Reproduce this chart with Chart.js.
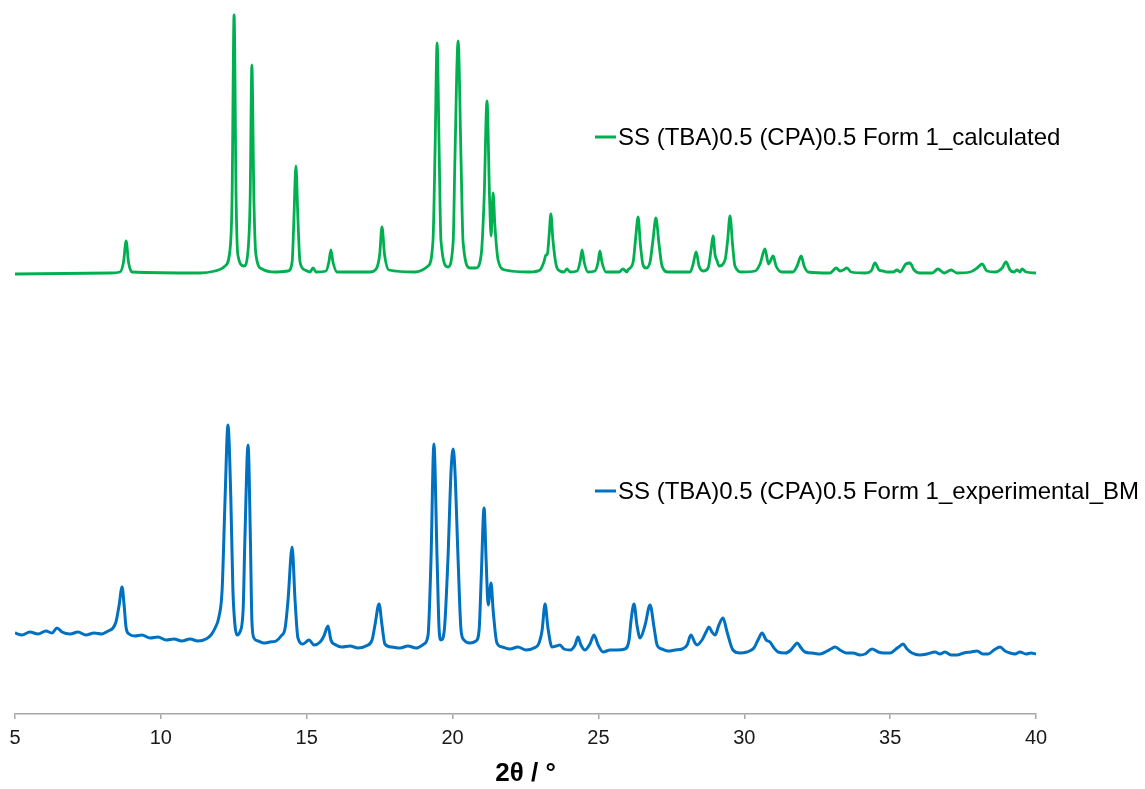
<!DOCTYPE html>
<html>
<head>
<meta charset="utf-8">
<title>PXRD</title>
<script src="https://cdn.jsdelivr.net/npm/chart.js@4.4.1/dist/chart.umd.min.js"></script>
<style>
  html, body { margin: 0; padding: 0; background: #fff; }
  canvas { display: block; }
</style>
</head>
<body>
<canvas id="xrd" width="1145" height="789"></canvas>
<script>
// series labels
const seriesNames = [
  'SS (TBA)0.5 (CPA)0.5 Form 1_calculated',
  'SS (TBA)0.5 (CPA)0.5 Form 1_experimental_BM'
];

// calculated pattern (2θ / °, intensity a.u., already offset upwards)
const calcTheta = [
  5.00, 8.26, 8.60, 8.72, 8.81, 8.89, 9.01,
  11.34, 11.86, 12.20, 12.37, 12.44, 12.51, 12.58, 12.64, 12.85,
  12.99, 13.06, 13.12, 13.19, 13.26, 13.47, 13.91,
  14.36, 14.50, 14.56, 14.63, 14.70, 14.77, 14.94,
  15.11, 15.22, 15.32,
  15.66, 15.76, 15.83, 15.90, 16.04,
  17.17, 17.38, 17.50, 17.58, 17.67, 17.82,
  18.71, 19.16, 19.33, 19.40, 19.47, 19.54, 19.60, 19.84,
  20.02, 20.08, 20.19, 20.29, 20.36, 20.60,
  20.80, 20.98, 21.08, 21.18, 21.27, 21.32, 21.39, 21.45, 21.56, 21.80,
  22.65, 23.00, 23.13, 23.20, 23.25, 23.31, 23.37, 23.44, 23.55, 23.68,
  23.82, 23.92, 24.03,
  24.27, 24.37, 24.44, 24.51, 24.64,
  24.88, 24.99, 25.05, 25.12, 25.26,
  25.71, 25.84, 25.98,
  26.01, 26.19, 26.27, 26.36, 26.44, 26.53, 26.63,
  26.77, 26.87, 26.97, 27.08, 27.18, 27.39,
  28.14, 28.24, 28.35, 28.45, 28.59,
  28.76, 28.86, 28.93, 29.00, 29.07, 29.13,
  29.34, 29.43, 29.51, 29.60, 29.68, 29.92,
  30.37, 30.54, 30.71, 30.83, 30.88, 30.99, 31.09, 31.29,
  31.67, 31.81, 31.95, 32.05, 32.19,
  32.94, 33.15, 33.28, 33.39, 33.52, 33.66,
  34.14, 34.35, 34.48, 34.62, 34.76, 34.89,
  35.10, 35.24, 35.34, 35.54, 35.68, 35.82, 36.02,
  36.44, 36.64, 36.85, 37.09, 37.29,
  37.74, 37.98, 38.15, 38.32, 38.60,
  38.84, 38.97, 39.11, 39.25, 39.35, 39.45, 39.52, 39.66, 40.00
];
const calcIntensity = [
  440, 441, 442, 452, 473, 452, 442,
  441, 443, 448, 464, 514, 699, 514, 459, 448,
  464, 514, 649, 514, 459, 445, 442,
  443, 452, 494, 548, 494, 452, 444,
  442, 446, 442,
  443, 452, 464, 452, 442,
  442, 445, 459, 487, 459, 444,
  442, 448, 474, 564, 671, 564, 474, 447,
  472, 554, 673, 554, 472, 446,
  446, 459, 514, 613, 514, 478, 521, 489, 454, 444,
  442, 444, 452, 459, 460, 479, 500, 474, 449, 443,
  442, 445, 442,
  443, 452, 464, 452, 442,
  443, 452, 463, 452, 442,
  442, 445, 442,
  444, 452, 474, 497, 469, 449, 446,
  452, 474, 496, 469, 448, 442,
  442, 449, 462, 448, 443,
  446, 464, 478, 459, 453, 448,
  454, 474, 498, 469, 448, 442,
  443, 450, 465, 450, 452, 458, 448, 442,
  442, 448, 458, 448, 442,
  441, 446, 443, 444, 446, 442,
  441, 443, 451, 444, 443, 442,
  442, 444, 442, 450, 451, 444, 441,
  441, 445, 441, 444, 441,
  442, 446, 450, 443, 442,
  446, 452, 444, 442, 444, 442, 445, 442, 441
];

// experimental pattern (ball milled)
const expTheta = [
  5.00, 5.24, 5.51, 5.79, 6.06, 6.27, 6.44, 6.61, 6.89, 7.16, 7.43, 7.71, 7.98,
  8.19, 8.36, 8.46, 8.57, 8.67, 8.74, 8.81, 8.91,
  9.11, 9.35, 9.63, 9.90, 10.18, 10.45, 10.72, 11.00, 11.27, 11.55, 11.72,
  11.86, 11.99, 12.10, 12.20, 12.30, 12.40, 12.47, 12.54, 12.61,
  12.71, 12.82, 12.88, 12.99, 13.07, 13.12, 13.19,
  13.33, 13.54, 13.74, 13.95, 14.12,
  14.26, 14.36, 14.50, 14.60, 14.70, 14.87, 15.08, 15.25, 15.46,
  15.59, 15.73, 15.83, 16.00, 16.21, 16.48, 16.76, 17.03, 17.24,
  17.34, 17.48, 17.58, 17.68, 17.92, 18.20, 18.47, 18.75, 19.02,
  19.16, 19.26, 19.36, 19.47, 19.54, 19.60, 19.71,
  19.84, 19.95, 20.02, 20.08, 20.19, 20.29, 20.39, 20.60, 20.80,
  20.91, 20.98, 21.08, 21.15, 21.22, 21.32, 21.39, 21.52,
  21.70, 21.97, 22.24, 22.52, 22.79, 22.95,
  23.07, 23.17, 23.27, 23.41, 23.55, 23.68, 23.82, 24.03,
  24.20, 24.30, 24.40, 24.54, 24.71, 24.85, 24.99, 25.16,
  25.40, 25.64, 25.91, 26.05, 26.12, 26.22, 26.32, 26.43,
  26.60, 26.77, 26.91, 27.01, 27.18, 27.39, 27.63, 27.87,
  28.04, 28.17, 28.31, 28.38, 28.55, 28.69, 28.79, 28.89, 29.00,
  29.13, 29.27, 29.41, 29.61, 29.85, 30.09, 30.33,
  30.47, 30.61, 30.75, 30.88, 31.02, 31.16, 31.40, 31.60,
  31.71, 31.81, 31.95, 32.08, 32.32, 32.60, 32.84,
  32.97, 33.11, 33.28, 33.49, 33.73, 33.97, 34.14,
  34.38, 34.59, 34.79, 35.00, 35.20, 35.34, 35.44, 35.58, 35.75,
  36.02, 36.26, 36.54, 36.71, 36.88, 37.09, 37.29, 37.53, 37.77,
  37.98, 38.18, 38.36, 38.56, 38.77, 38.94, 39.11, 39.28, 39.45, 39.66, 39.83, 40.00
];
const expIntensity = [
  81, 79, 82, 80, 83, 81, 86, 82, 80, 82, 79, 81, 80,
  83, 86, 92, 109, 127, 109, 86, 80,
  78, 79, 76, 77, 74, 75, 73, 75, 73, 75, 79,
  86, 97, 124, 214, 289, 214, 124, 89, 79,
  82, 104, 174, 269, 174, 94, 76,
  73, 71, 72, 73, 78,
  86, 114, 167, 114, 76, 70, 74, 69, 72,
  78, 88, 74, 69, 67, 68, 66, 68, 74,
  89, 110, 89, 70, 67, 66, 68, 66, 70,
  79, 154, 270, 154, 84, 74, 82,
  154, 244, 265, 244, 154, 84, 74, 71, 73,
  84, 134, 206, 154, 109, 131, 104, 71,
  67, 65, 67, 64, 66, 70,
  84, 110, 86, 67, 68, 69, 65, 64,
  69, 77, 69, 64, 70, 79, 69, 62,
  64, 64, 65, 74, 94, 110, 89, 76,
  89, 109, 86, 69, 65, 63, 64, 65,
  69, 79, 71, 69, 74, 82, 87, 82, 79,
  89, 96, 82, 64, 61, 62, 66,
  74, 81, 74, 72, 66, 62, 61, 64,
  68, 71, 66, 62, 61, 60, 63,
  65, 67, 64, 61, 61, 59, 60,
  65, 62, 61, 61, 65, 68, 70, 65, 61,
  59, 60, 62, 60, 62, 59, 59, 61, 62,
  63, 60, 60, 64, 67, 63, 61, 60, 62, 60, 61, 60
];

const xTicks = [5, 10, 15, 20, 25, 30, 35, 40];

const FONT = '"Liberation Sans", Arial, sans-serif';

function toPoints(xs, ys) {
  return xs.map((x, i) => ({ x: x, y: ys[i] }));
}

// labels sit next to each trace instead of in a legend box
const inlineLabels = {
  id: 'inlineLabels',
  afterDraw(chart) {
    const ctx = chart.ctx;
    const spots = [[595, 137], [595, 491]];
    chart.data.datasets.forEach((ds, i) => {
      const [x, y] = spots[i];
      ctx.save();
      ctx.strokeStyle = ds.borderColor;
      ctx.lineWidth = 3;
      ctx.beginPath();
      ctx.moveTo(x, y);
      ctx.lineTo(x + 21, y);
      ctx.stroke();
      ctx.fillStyle = '#000';
      ctx.font = '24px ' + FONT;
      ctx.textBaseline = 'middle';
      ctx.fillText(ds.label, x + 23, y + 1);
      ctx.restore();
    });
  }
};

new Chart(document.getElementById('xrd'), {
  type: 'line',
  data: {
    datasets: [
      {
        label: seriesNames[0],
        data: toPoints(calcTheta, calcIntensity),
        borderColor: '#00b050',
        borderWidth: 2.8
      },
      {
        label: seriesNames[1],
        data: toPoints(expTheta, expIntensity),
        borderColor: '#0070c0',
        borderWidth: 3
      }
    ]
  },
  options: {
    responsive: false,
    animation: false,
    devicePixelRatio: 1,
    layout: { padding: { left: 15, right: 109, top: 0, bottom: 0 } },
    elements: {
      point: { radius: 0 },
      line: { cubicInterpolationMode: 'monotone', fill: false }
    },
    plugins: {
      legend: { display: false },
      tooltip: { enabled: false }
    },
    scales: {
      x: {
        type: 'linear',
        min: 5,
        max: 40,
        afterBuildTicks: axis => { axis.ticks = xTicks.map(v => ({ value: v })); },
        afterFit: axis => { axis.height = 75; },
        grid: { drawOnChartArea: false, drawTicks: true, tickLength: 5, color: '#a6a6a6', lineWidth: 1.5 },
        border: { color: '#a6a6a6', width: 1.5 },
        ticks: { padding: 7, color: '#1a1a1a', maxRotation: 0, font: { family: FONT, size: 20 } },
        title: {
          display: true,
          text: '2θ / °',
          color: '#000',
          font: { family: FONT, size: 26, weight: 'bold' },
          padding: { top: 0, bottom: 0 }
        }
      },
      y: { display: false, min: 0, max: 714 }
    }
  },
  plugins: [inlineLabels]
});
</script>
</body>
</html>
